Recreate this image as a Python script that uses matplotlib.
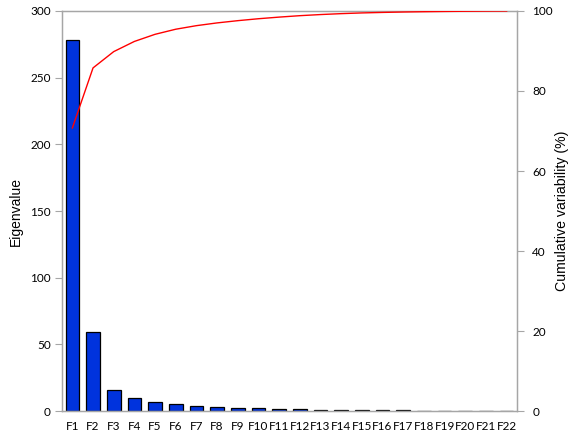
import numpy as np
import matplotlib
matplotlib.use("Agg")
import matplotlib.pyplot as plt

# Principal component eigenvalues (scree plot)
factors = [f"F{i}" for i in range(1, 23)]
eigenvalues = [278.0, 59.0, 16.0, 10.0, 7.0, 5.0, 3.5, 2.7, 2.2, 1.9, 1.6,
               1.4, 1.1, 0.9, 0.7, 0.5, 0.4, 0.3, 0.25, 0.2, 0.15, 0.1]

eig = np.array(eigenvalues)
cumulative = np.cumsum(eig) / eig.sum() * 100

fig = plt.figure(figsize=(5.71, 4.38), dpi=100)
ax = fig.add_axes([0.1086, 0.0616, 0.7968, 0.9133])
x = np.arange(len(factors))

ax.bar(x, eig, width=0.66, color="#0033dd", edgecolor="black", linewidth=0.9, zorder=2)
ax.set_xlim(-0.5, len(factors) - 0.5)
ax.set_ylim(0, 300)
ax.set_yticks([0, 50, 100, 150, 200, 250, 300])
ax.set_xticks(x)
ax.set_xticklabels(factors)

grey = "#a6a6a6"
for s in ax.spines.values():
    s.set_color(grey)
    s.set_linewidth(1.0)
ax.tick_params(axis="y", direction="out", length=5, color=grey, labelsize=8.5, pad=3)
ax.tick_params(axis="x", length=0, labelsize=8.5, pad=7)
for lab in ax.get_xticklabels() + ax.get_yticklabels():
    lab.set_family("Lato")
ax.set_ylabel("Eigenvalue", fontsize=10, family="Liberation Sans", labelpad=5)

ax2 = ax.twinx()
ax2.plot(x, cumulative, color="red", linewidth=1.0, zorder=3)
ax2.set_ylim(0, 100)
ax2.set_yticks([0, 20, 40, 60, 80, 100])
for s in ax2.spines.values():
    s.set_color(grey)
ax2.tick_params(axis="y", direction="out", length=5, color=grey, labelsize=8.5, pad=6)
for lab in ax2.get_yticklabels():
    lab.set_family("Lato")
ax2.set_ylabel("Cumulative variability (%)", fontsize=10.2, family="Liberation Sans")
ax2.yaxis.set_label_coords(1.084, 0.5)

fig.savefig("out.png", dpi=100)
